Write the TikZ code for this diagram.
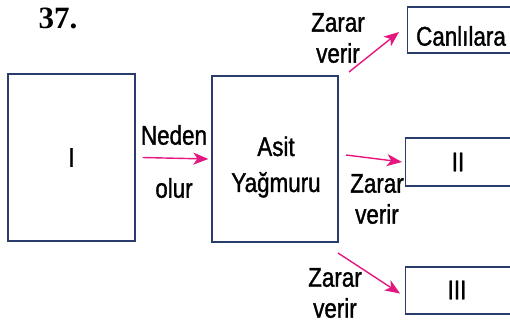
\documentclass[tikz,border=0pt]{standalone}
\usepackage{fontspec}
\setmainfont[FakeStretch=0.83,FakeBold=1.2]{Liberation Sans}
\newfontfamily\numfont{Liberation Serif}
\usetikzlibrary{arrows.meta,calc}
\definecolor{boxc}{HTML}{2A3C6C}
\definecolor{mag}{HTML}{E3177F}
\tikzset{
  box/.style={draw=boxc, line width=1.3pt, fill=none, inner sep=0pt},
  txt/.style={font=\fontsize{27}{31}\selectfont, align=center, inner sep=0pt},
  arr/.style={draw=mag, line width=1.4pt, -{Stealth[length=15pt,width=12pt,inset=4pt]}, mag},
}
\begin{document}
\begin{tikzpicture}[x=1pt,y=-1pt]
\useasboundingbox (0,0) rectangle (510,327);
\clip (0,0) rectangle (510,327);
\node[font=\numfont\bfseries\fontsize{31}{36}\selectfont, inner sep=0pt] (num) at (58,18) {37.};
% boxes
\node[box, minimum width=127pt, minimum height=167pt] (I) at (71.5,157.5) {};
\node[box, minimum width=126pt, minimum height=166pt] (A) at (275,159) {};
\node[box, minimum width=120pt, minimum height=46pt, anchor=west] (C) at (407,30) {};
\node[box, minimum width=120pt, minimum height=48pt, anchor=west] (II) at (405,162) {};
\node[box, minimum width=120pt, minimum height=47pt, anchor=west] (III) at (405,290.5) {};
% texts
\node[txt] (tI) at (I.center) {I};
\node[txt] (tA) at (276,167) {Asit\\[5pt]Yağmuru};
\node[txt] (tC) at (461,36) {Canlılara};
\node[txt] (tII) at (458,162) {II};
\node[txt] (tIII) at (457,290) {III};
% arrows
\draw[arr] ($(I.east)+(7,0)$) -- ($(A.west)+(-3,0)$);
\node[txt] (neden) at (174,135) {Neden};
\node[txt] (olur) at (174,188) {olur};
\coordinate (s1) at (349,72);
\coordinate (s2) at (346,155);
\coordinate (s3) at (338,253);
\draw[arr] (s1) -- ($(C.west)+(-8,2)$);
\draw[arr] (s2) -- ($(II.west)+(-3,0)$);
\draw[arr] (s3) -- ($(III.west)+(-5,3)$);
\node[txt] (z1) at (338,38) {Zarar\\verir};
\node[txt] (z2) at (377,199) {Zarar\\verir};
\node[txt] (z3) at (335,293) {Zarar\\verir};
\end{tikzpicture}
\end{document}
